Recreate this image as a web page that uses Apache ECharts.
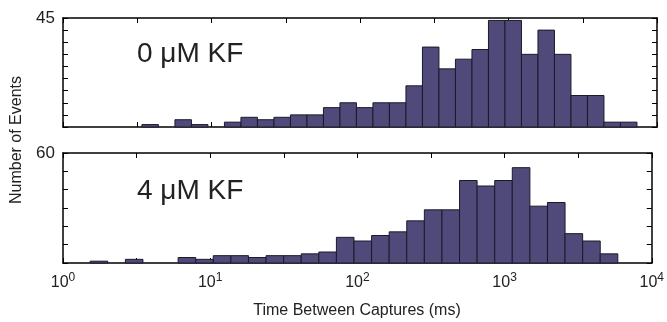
<!DOCTYPE html>
<html>
<head>
<meta charset="utf-8">
<script src="https://cdn.jsdelivr.net/npm/echarts@6/dist/echarts.min.js"></script>
<style>
html,body{margin:0;padding:0;background:#fff;}
#chart{width:667px;height:322px;}
</style>
</head>
<body>
<div id="chart"></div>
<script>
// Histogram counts (30 log-spaced bins each)
const countsTop = [1,0,3,1,0,2,4,3,4,5,5,8,10,8,10,10,17,33,24,28,32,44,44,30,40,30,13,13,2,2];
const countsBottom = [1,0,2,0,0,3,2,4,4,3,4,4,5,6,14,12,15,17,23,29,29,45,42,45,52,31,33,16,12,5];
// Bin ranges (ms): lowest edge, highest edge
const rangeTop = [3.40, 7330];
const rangeBottom = [1.53, 5880];
const panelLabels = ['0 μM KF', '4 μM KF'];
const yMaxTop = 45, yMaxBottom = 60;
const xTickExponents = [0, 1, 2, 3, 4];

function bins(counts, range) {
  const a = Math.log10(range[0]), b = Math.log10(range[1]);
  const w = (b - a) / counts.length;
  return counts.map((c, i) => [a + i * w, a + (i + 1) * w, c]);
}

const FONT = '"Liberation Sans", Arial, sans-serif';
const frame = {show: true, onZero: false, lineStyle: {color: '#000', width: 1.5}};
const BAR = '#4f4a7a';

function renderBar(params, api) {
  const c = api.value(2);
  if (!c) return null;
  const p0 = api.coord([api.value(0), 0]);
  const p1 = api.coord([api.value(1), c]);
  return {
    type: 'rect',
    shape: {x: p0[0], y: p1[1], width: p1[0] - p0[0], height: p0[1] - p1[1]},
    style: {fill: BAR, stroke: '#1b1a2a', lineWidth: 1}
  };
}

function xAx(grid, pos, labels) {
  return {
    type: 'value', gridIndex: grid, position: pos, min: 0, max: 4, interval: 0.5,
    axisLine: frame, splitLine: {show: false},
    axisTick: {show: true, inside: true, length: 5, lineStyle: {color: '#000', width: 1}},
    axisLabel: labels ? {
      show: true, margin: 9, color: '#222', fontFamily: FONT,
      formatter: v => xTickExponents.includes(v) ? '{b|10}{s|' + v + '}' : '',
      rich: {
        b: {fontSize: 16, fontFamily: FONT, color: '#222'},
        s: {fontSize: 12, fontFamily: FONT, color: '#222', padding: [0, 0, 9, 0]}
      }
    } : {show: false}
  };
}
function yAx(grid, pos, max, interval, labels) {
  return {
    type: 'value', gridIndex: grid, position: pos, min: 0, max: max, interval: interval,
    axisLine: frame, splitLine: {show: false},
    axisTick: {show: true, inside: true, length: 5, lineStyle: {color: '#000', width: 1}},
    axisLabel: labels ? {
      show: true, margin: 8, fontSize: 17, color: '#222', fontFamily: FONT,
      formatter: v => v === max ? String(v) : ''
    } : {show: false}
  };
}

const chart = echarts.init(document.getElementById('chart'), null, {renderer: 'canvas'});
chart.setOption({
  animation: false,
  backgroundColor: '#fff',
  grid: [
    {left: 63, right: 10, top: 18, height: 109},
    {left: 63, right: 10, top: 153, height: 110}
  ],
  xAxis: [
    xAx(0, 'bottom', false), xAx(0, 'top', false),
    xAx(1, 'bottom', true), xAx(1, 'top', false)
  ],
  yAxis: [
    yAx(0, 'left', yMaxTop, 5, true), yAx(0, 'right', yMaxTop, 5, false),
    yAx(1, 'left', yMaxBottom, 10, true), yAx(1, 'right', yMaxBottom, 10, false)
  ],
  series: [
    {type: 'custom', xAxisIndex: 0, yAxisIndex: 0, renderItem: renderBar, data: bins(countsTop, rangeTop)},
    {type: 'custom', xAxisIndex: 2, yAxisIndex: 2, renderItem: renderBar, data: bins(countsBottom, rangeBottom)}
  ],
  graphic: [
    {type: 'text', left: 137, top: 40, style: {text: panelLabels[0], font: '28px ' + FONT, fill: '#222'}},
    {type: 'text', left: 137, top: 177, style: {text: panelLabels[1], font: '28px ' + FONT, fill: '#222'}},
    {type: 'text', x: 17, y: 140, rotation: Math.PI / 2,
     style: {text: 'Number of Events', font: '16px ' + FONT, fill: '#222', align: 'center', verticalAlign: 'middle'}},
    {type: 'text', x: 357, y: 311,
     style: {text: 'Time Between Captures (ms)', font: '16px ' + FONT, fill: '#222', align: 'center', verticalAlign: 'middle'}}
  ]
});
</script>
</body>
</html>
